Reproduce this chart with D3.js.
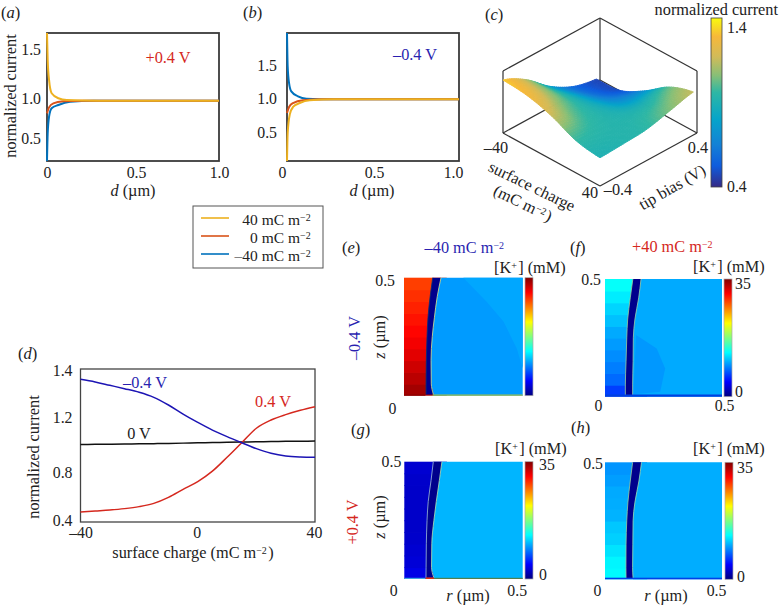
<!DOCTYPE html>
<html><head><meta charset="utf-8">
<script src="https://cdn.jsdelivr.net/npm/d3@7"></script>
<style>
html,body{margin:0;padding:0;background:#fff}
svg{display:block}
text{font-family:"Liberation Serif",serif;font-size:16.3px;fill:#222}
</style></head><body>
<svg id="c" width="780" height="606"></svg>
<script>
// ---------- panels (a), (b): current against distance ----------
const dA=[0,.004,.012,.027,.066,.115,.3,1];
const aYellow=[1.663,1.388,1.184,1.048,.997,.975,.967,.967];
const dARed=[0,.012,.037,.095,.21,1];
const aRed=[.808,.883,.933,.958,.967,.967];
const dABlue=[0,.004,.012,.027,.066,.134,.27,1];
const aBlue=[.2125,.558,.767,.871,.9125,.954,.967,.967];
const dB=[0,.004,.012,.025,.064,.113,.27,1];
const bBlue=[1.99,1.475,1.225,1.10,1.025,.99,.98,.98];
const dBRed=[0,.012,.035,.093,.21,1];
const bRed=[.78,.868,.926,.966,.98,.98];
const dBYellow=[0,.004,.016,.035,.074,.132,.27,1];
const bYellow=[.078,.485,.755,.868,.926,.966,.98,.98];
const legendLabels=["40","0","\u201340"];
const lineColours=["#EDB120","#D95319","#0072BD"];
// ---------- panel (d) ----------
const charge=[-40,-35,-30,-25,-20,-15,-10,-5,0,5,10,15,20,25,30,35,40];
const dMinus=[1.357,1.346,1.332,1.318,1.303,1.282,1.25,1.212,1.161,1.105,1.057,1.013,.97,.936,.916,.909,.907];
const dZero=[1,1.001,1.002,1.003,1.005,1.006,1.008,1.01,1.012,1.014,1.016,1.018,1.02,1.021,1.023,1.024,1.025];
const dPlus=[.48,.488,.496,.507,.523,.549,.597,.661,.723,.806,.907,1.013,1.118,1.178,1.21,1.228,1.243];
// ---------- panel (c) surface ----------
const surfCharge=[-40,-20,0,20,40];
const surfBias=[-.4,-.2,0,.2,.37];
const surfM4=[1.32,1.28,1.16,.97,.90];
const surfM2=[1.11,1.08,1.0,.94,.92];
const surf0=[.78,.84,.88,.92,.95];
const surfP2=[.56,.62,.74,.92,1.05];
const surfP4=[.47,.50,.72,1.01,1.15];
// ---------- panels (e)-(h): [K+] fields ----------
const bandEdges=[0,.05,.1,.15,.2,.25,.3,.35,.4,.45,.5];
const eBands=[33.8,33,32.3,31.6,31,30.5,30,29.5,29,28.5];
const fBands=[6.5,8,8.7,9.2,9.7,10.2,11,11.7,12.5,13.3];
const gBands=[3.5,3,2.8,2.6,2.5,2.5,2.5,2.5,2.6,2.8];
const hBands=[13,12.8,12.2,11.5,11.2,10.5,10.3,10.2,9.8,9.5];
const wallZ=[.005,.05,.15,.25,.33,.42,.5];
const eWallL=[.093,.093,.094,.097,.101,.11,.121], eWallR=[.124,.115,.114,.119,.128,.14,.156];
const fWallL=[.087,.087,.09,.093,.097,.108,.119], fWallR=[.118,.118,.12,.121,.128,.144,.154];
const gWallL=[.0915,.092,.093,.096,.101,.113,.1225], gWallR=[.125,.115,.116,.125,.135,.148,.159];
const hWallL=[.09,.0895,.09,.093,.098,.108,.118], hWallR=[.12,.118,.119,.12,.128,.145,.156];
const eOuter=[9.7,10.1], fOuter=[10.2,9.6], gOuter=[10.6,10.6], hOuter=[10.3,10.3];
const eZoneR=[.25,.348,.419,.475,.5,.5], eZoneZ=[.5,.398,.314,.2,.116,.5];
const fZoneR=[.133,.221,.257,.236,.121], fZoneZ=[.262,.205,.12,.021,.01];
const kTicks=[0,35];

const svg=d3.select("#c");
const RED="#d5281e",BLUE="#2a1fb0";
function put(g,x,y,parts,o={}){
  const t=g.append("text").attr("x",x).attr("y",y).attr("dy",".35em")
    .attr("text-anchor",o.anchor||"middle").style("fill",o.fill||"#222");
  if(o.size)t.style("font-size",o.size+"px");
  if(o.rot!=null)t.attr("transform",`rotate(${o.rot} ${x} ${y})`);
  parts.forEach(p=>{
    if(typeof p==="string"){t.append("tspan").text(p);return;}
    const s=t.append("tspan").text(p.t);
    if(p.i)s.style("font-style","italic");
    if(p.sup){s.attr("dy","-.4em").style("font-size","10px");
      t.append("tspan").attr("dy",".25em").text("\u200a");}
  });
  return t;
}
const unit=[" mC m",{t:"\u22122",sup:1}];
const tag=(x,y,l)=>put(svg,x,y,["(",{t:l,i:1},")"],{anchor:"start",size:16.5});

function axis(g,gen,nudge){
  const a=g.append("g").call(gen);
  a.select(".domain").remove();
  a.selectAll(".tick text").style("font-size","15.8px")
   .style("font-family",'"Liberation Serif",serif').style("fill","#222")
   .attr("transform",(d,i)=>{const n=(nudge||[])[i]||[0,0];return `translate(${n[0]},${n[1]})`;});
  a.selectAll(".tick line").remove();
  return a;
}
const fmt1=d3.format(".1f"), fmtEdge=d=>d===0?"0":fmt1(d);

// panels (a), (b)
function linePanel(x0,yDom,yRange,series,yTicks,yN,xN,pad){
  const g=svg.append("g");
  const x=d3.scaleLinear([0,1],[x0,x0+172]);
  const y=d3.scaleLinear(yDom,yRange);
  const ln=d3.line().curve(d3.curveMonotoneX);
  g.append("rect").attr("x",x0).attr("y",33).attr("width",172).attr("height",128)
    .attr("fill","#fff").attr("stroke","#3a3a3a").attr("stroke-width",1.8);
  axis(g.append("g").attr("transform","translate(0,161)"),
    d3.axisBottom(x).tickValues([0,.5,1]).tickSize(0).tickPadding(5.5).tickFormat(fmtEdge),xN);
  axis(g.append("g").attr("transform",`translate(${x0},0)`),
    d3.axisLeft(y).tickValues(yTicks).tickSize(0).tickPadding(pad).tickFormat(fmt1),yN);
  series.forEach(s=>{
    g.append("path").attr("fill","none").attr("stroke",s.c).attr("stroke-width",2)
      .attr("d",ln(s.d.map((d,i)=>[x(d),y(s.v[i])])));
  });
}
linePanel(47,[.2125,.5,1,1.5,1.663],[161,138,98,49,33],[
  {d:dABlue,v:aBlue,c:lineColours[2]},{d:dARed,v:aRed,c:lineColours[1]},{d:dA,v:aYellow,c:lineColours[0]}],
  [.5,1,1.5],[],[[0,0],[3,0],[0,0]],6);
linePanel(287,[.078,.5,1,1.5,1.99],[161,132,98,65,33],[
  {d:dB,v:bBlue,c:lineColours[2]},{d:dBRed,v:bRed,c:lineColours[1]},{d:dBYellow,v:bYellow,c:lineColours[0]}],
  [.5,1,1.5],[],[[-5,0],[1,0],[-6,0]],10);
tag(1,12,"a");tag(243,12,"b");tag(485,14,"c");tag(18,353,"d");
put(svg,10,96,["normalized current"],{rot:-90});
put(svg,133,190.5,[{t:"d",i:1}," (\u00b5m)"]);
put(svg,372,190.5,[{t:"d",i:1}," (\u00b5m)"]);
put(svg,168,57,["+0.4 V"],{fill:RED});
put(svg,415,54,["\u20130.4 V"],{fill:BLUE});

// legend
const lg=svg.append("g");
lg.append("rect").attr("x",193).attr("y",206).attr("width",130).attr("height",62)
  .attr("fill","#fff").attr("stroke","#555").attr("stroke-width",1);
const lgLineY=[218,236,254], lgTextY=[219.5,237.5,255.5];
legendLabels.forEach((l,i)=>{
  lg.append("line").attr("x1",201).attr("x2",229).attr("y1",lgLineY[i]).attr("y2",lgLineY[i])
    .attr("stroke",lineColours[i]).attr("stroke-width",1.6);
  put(lg,312,lgTextY[i],[l,...unit],{anchor:"end",size:15.5});
});

// panel (d)
{
  const g=svg.append("g");
  const x=d3.scaleLinear([-40,40],[80.5,315]);
  const y=d3.scaleLinear([.4,.8,1.2,1.4],[522,472,417,369]);
  g.append("rect").attr("x",80.5).attr("y",369).attr("width",234.5).attr("height",153)
    .attr("fill","#fff").attr("stroke","#444").attr("stroke-width",1.3);
  axis(g.append("g").attr("transform","translate(0,522)"),
    d3.axisBottom(x).tickValues([-40,0,40]).tickSize(0).tickPadding(5)
      .tickFormat(d=>d<0?"\u2013"+(-d):d),[[0,0],[-1,0],[-1,0]]);
  axis(g.append("g").attr("transform","translate(80.5,0)"),
    d3.axisLeft(y).tickValues([.4,.8,1.2,1.4]).tickSize(0).tickPadding(8).tickFormat(fmt1),
    [[0,-2],[0,0],[0,0],[0,1]]);
  const ln=d3.line().x((d,i)=>x(charge[i])).y(d=>y(d)).curve(d3.curveMonotoneX);
  [[dZero,"#111"],[dPlus,RED],[dMinus,"#1c14b4"]].forEach(([v,c])=>{
    g.append("path").attr("fill","none").attr("stroke",c).attr("stroke-width",1.5).attr("d",ln(v));
  });
  put(g,33,457,["normalized current"],{rot:-90});
  put(g,193,552,["surface charge (mC m",{t:"\u22122",sup:1},")"]);
  put(g,145,382,["\u20130.4 V"],{fill:BLUE});
  put(g,273,401,["0.4 V"],{fill:RED});
  put(g,139,433,["0 V"]);
}

// panel (c)
{
  const g=svg.append("g");
  const parula=d3.scaleLinear().domain([.4,.525,.65,.8,.96,1.06,1.17,1.29,1.4])
    .range(["#352A87","#0F5CDD","#1481D6","#06A4CA","#2EB7A4","#87BF77","#D1BB59","#F6B83A","#F9FB0E"]).clamp(true);
  const U=d3.scaleLinear([-40,40],[0,1]), V=d3.scaleLinear([-.4,.4],[0,1]);
  const H=d3.scaleLinear([.42,1.42],[0,58.8]);
  const px=(s,t)=>503+97*U(s)+97*V(t), py=(s,t,z)=>133+53*U(s)-53*V(t)-H(z);
  const topH=62;
  const corner=(s,t,h)=>[px(s,t),133+53*U(s)-53*V(t)-h];
  const L=d3.line();
  const edges=[[[-40,.4,0],[-40,.4,topH]],[[-40,-.4,topH],[-40,.4,topH]],[[-40,.4,topH],[40,.4,topH]],
    [[-40,-.4,0],[-40,-.4,topH]],[[40,.4,0],[40,.4,topH]],
    [[-40,-.4,0],[40,-.4,0]],[[40,-.4,0],[40,.4,0]],[[-40,-.4,0],[-40,.4,0]],[[-40,.4,0],[40,.4,0]]];
  edges.forEach(e=>g.append("path").attr("fill","none").attr("stroke","#333").attr("stroke-width",1.2)
    .attr("d",L(e.map(p=>corner(...p)))));
  const rows=[surfM4,surfM2,surf0,surfP2,surfP4];
  const cr=(a,b,c,d,t)=>.5*(2*b+(c-a)*t+(2*a-5*b+4*c-d)*t*t+(3*b-a-3*c+d)*t*t*t);
  const at1=(arr,f)=>{const n=arr.length-1,p=Math.min(n-1e-6,f*n),i=Math.floor(p);
    return cr(arr[Math.max(0,i-1)],arr[i],arr[i+1],arr[Math.min(n,i+2)],p-i);};
  const surf=(fu,fv)=>at1(rows.map(r=>at1(r,fu)),fv);
  const N=44, sS=d3.scaleLinear([0,1],d3.extent(surfCharge)), sT=d3.scaleLinear([0,1],d3.extent(surfBias));
  const cells=[];
  for(let i=0;i<N;i++)for(let j=0;j<N;j++)cells.push([i,j]);
  cells.sort((a,b)=>(a[0]-a[1])-(b[0]-b[1]));
  const P=(i,j)=>{const fu=i/N,fv=j/N,s=sS(fu),t=sT(fv);return [px(s,t),py(s,t,surf(fu,fv))];};
  cells.forEach(([i,j])=>{
    const col=parula(surf((i+.5)/N,(j+.5)/N));
    g.append("path").attr("d",L([P(i,j),P(i+1,j),P(i+1,j+1),P(i,j+1)])+"Z")
      .attr("fill",col).attr("stroke",col).attr("stroke-width",.9);
  });
  put(g,496,147,["\u201340"]);put(g,590,192,["40"]);put(g,618,189,["\u20130.4"]);put(g,698,147,["0.4"]);
  put(g,532,186,["surface charge"],{rot:26});
  put(g,523,203,["(mC m",{t:"\u22122",sup:1},")"],{rot:26});
  put(g,672,187,["tip bias (V)"],{rot:-30});
  // colour bar
  const defs=svg.append("defs");
  const gr=defs.append("linearGradient").attr("id","par").attr("x1",0).attr("x2",0).attr("y1",1).attr("y2",0);
  parula.domain().forEach(v=>gr.append("stop").attr("offset",v-.4).attr("stop-color",parula(v)));
  g.append("rect").attr("x",711).attr("y",18).attr("width",11).attr("height",169)
    .attr("fill","url(#par)").attr("stroke","#444").attr("stroke-width",.8);
  const cy=d3.scaleLinear([.4,1.4],[187,18]);
  axis(g.append("g").attr("transform","translate(722,0)"),
    d3.axisRight(cy).tickValues([.4,1.4]).tickSize(0).tickPadding(5).tickFormat(fmt1),[[0,-1],[0,9]]);
  put(g,778,9,["normalized current"],{anchor:"end"});
}

// panels (e)-(h)
const jet=d3.scaleLinear().domain([0,.125,.375,.625,.875,1].map(d=>d*35))
  .range(["#000080","#0000ff","#00ffff","#ffff00","#ff0000","#800000"]);
{
  const gr=svg.append("defs").append("linearGradient").attr("id","jetg")
    .attr("x1",0).attr("x2",0).attr("y1",1).attr("y2",0);
  [0,.125,.375,.625,.875,1].forEach(o=>gr.append("stop").attr("offset",o).attr("stop-color",jet(o*35)));
}
function field(o){
  const g=svg.append("g");
  const x=d3.scaleLinear([0,.5],[o.x0,o.x1]), y=d3.scaleLinear([0,.5],[o.y1,o.y0]);
  o.bands.forEach((v,i)=>{
    g.append("rect").attr("x",x(0)).attr("width",x(.18)-x(0))
      .attr("y",y(bandEdges[i+1])).attr("height",y(bandEdges[i])-y(bandEdges[i+1])+(i?.8:0)).attr("fill",jet(v));
  });
  const zAll=[0,...wallZ];
  const R=[o.wR[0],...o.wR];
  g.append("path").attr("fill",jet(o.outer[0])).attr("d",
    d3.area().x0((d,i)=>x(R[i])).x1(()=>x(.5)).y(d=>y(d)).curve(d3.curveMonotoneY)(zAll));
  if(o.zR){
    const pts=o.zR.map((r,i)=>[x(r),y(o.zZ[i])]);
    g.append("path").attr("fill",jet(o.outer[1])).attr("d",d3.line().curve(d3.curveLinear)(pts)+"Z");
  }
  const edge=(arr,c)=>g.append("path").attr("fill","none").attr("stroke",c).attr("stroke-width",.8)
    .attr("d",d3.line().x((d,i)=>x(arr[i])).y(d=>y(d)).curve(d3.curveMonotoneY)(wallZ));
  g.append("path").attr("fill","#00008c").attr("d",
    d3.area().x0((d,i)=>x(o.wL[i])).x1((d,i)=>x(o.wR[i])).y(d=>y(d)).curve(d3.curveMonotoneY)(wallZ));
  edge(o.wL,o.edgeL);edge(o.wR,o.edgeR);
  // base strip of the field
  o.base.forEach(b=>g.append("rect").attr("x",x(b[0])).attr("width",x(b[1])-x(b[0]))
    .attr("y",o.y1-b[3]).attr("height",b[3]).attr("fill",b[2]));
  // colour bar
  g.append("rect").attr("x",o.cb).attr("y",o.y0).attr("width",8).attr("height",o.y1-o.y0)
    .attr("fill","url(#jetg)").attr("stroke","#aaa").attr("stroke-width",.7);
  const ky=d3.scaleLinear([0,35],[o.y1,o.y0]);
  if(o.kN) axis(g.append("g").attr("transform",`translate(${o.cb+8},0)`),
    d3.axisRight(ky).tickValues(kTicks).tickSize(0).tickPadding(o.kPad).tickFormat(d=>d),o.kN);
  axis(g.append("g").attr("transform",`translate(0,${o.y1})`),
    d3.axisBottom(x).tickValues(o.rT).tickSize(0).tickPadding(o.rPad).tickFormat(fmtEdge),o.rN);
  axis(g.append("g").attr("transform",`translate(${o.x0},0)`),
    d3.axisLeft(y).tickValues([.5]).tickSize(0).tickPadding(o.zPad).tickFormat(fmt1),[o.zN]);
  put(g,o.kx,o.ky,["[K",{t:"+",sup:1},"] (mM)"],{anchor:"start"});
}
field({x0:404,x1:522.7,y0:277.7,y1:395.7,cb:525,bands:eBands,wL:eWallL,wR:eWallR,outer:eOuter,zR:eZoneR,zZ:eZoneZ,
  edgeL:"#00307a",edgeR:"#c8f0a0",base:[[0,.09,"#8a0000",1.2],[.12,.5,"#a8c040",1.2]],
  rT:[0],rPad:7,rN:[[-12,0]],zPad:9,zN:[0,3],kx:494,ky:267});
field({x0:605,x1:722,y0:279,y1:396.7,cb:724,bands:fBands,wL:fWallL,wR:fWallR,outer:fOuter,zR:fZoneR,zZ:fZoneZ,
  edgeL:"#9ccf9c",edgeR:"#9ccfa8",base:[[0,.5,"#0040e0",2.2]],
  rT:[0,.5],rPad:3,rN:[[-7,0],[2,0]],zPad:4,zN:[0,0],kN:[[0,-5],[0,4]],kPad:3,kx:693,ky:266});
field({x0:404.3,x1:522.7,y0:461.7,y1:579,cb:525,bands:gBands,wL:gWallL,wR:gWallR,outer:gOuter,
  edgeL:"#a0c0d8",edgeR:"#b8f0b0",base:[[0,.09,"#40a0e0",1.2],[.09,.125,"#e03010",1.6],[.125,.5,"#508050",1.2]],
  rT:[0,.5],rPad:6,rN:[[-11,0],[-6,0]],zPad:3,zN:[0,0],kN:[[0,-5],[0,3]],kPad:6,kx:495,ky:448});
field({x0:605,x1:722,y0:462.3,y1:579.3,cb:725,bands:hBands,wL:hWallL,wR:hWallR,outer:hOuter,
  edgeL:"#9ccf9c",edgeR:"#9ce0b0",base:[[0,.5,"#0040e8",1.6]],
  rT:[0,.5],rPad:5,rN:[[-8,0],[-6,0]],zPad:2,zN:[0,1],kN:[[0,-3],[0,5]],kPad:4,kx:693,ky:448});
tag(342,247,"e");tag(570,247,"f");tag(351,429,"g");tag(571,427,"h");
put(svg,465,247,["\u201340",...unit],{fill:BLUE});
put(svg,673,246,["+40",...unit],{fill:RED});
put(svg,354,338,["\u20130.4 V"],{fill:BLUE,rot:-90});
put(svg,352,522,["+0.4 V"],{fill:RED,rot:-90});
const zLab=[{t:"z",i:1}," (\u00b5m)"], rLab=[{t:"r",i:1}," (\u00b5m)"];
put(svg,379,337,zLab,{rot:-90});put(svg,379,517,zLab,{rot:-90});
put(svg,468,595.5,rLab);put(svg,666,595.5,rLab);
</script></body></html>
